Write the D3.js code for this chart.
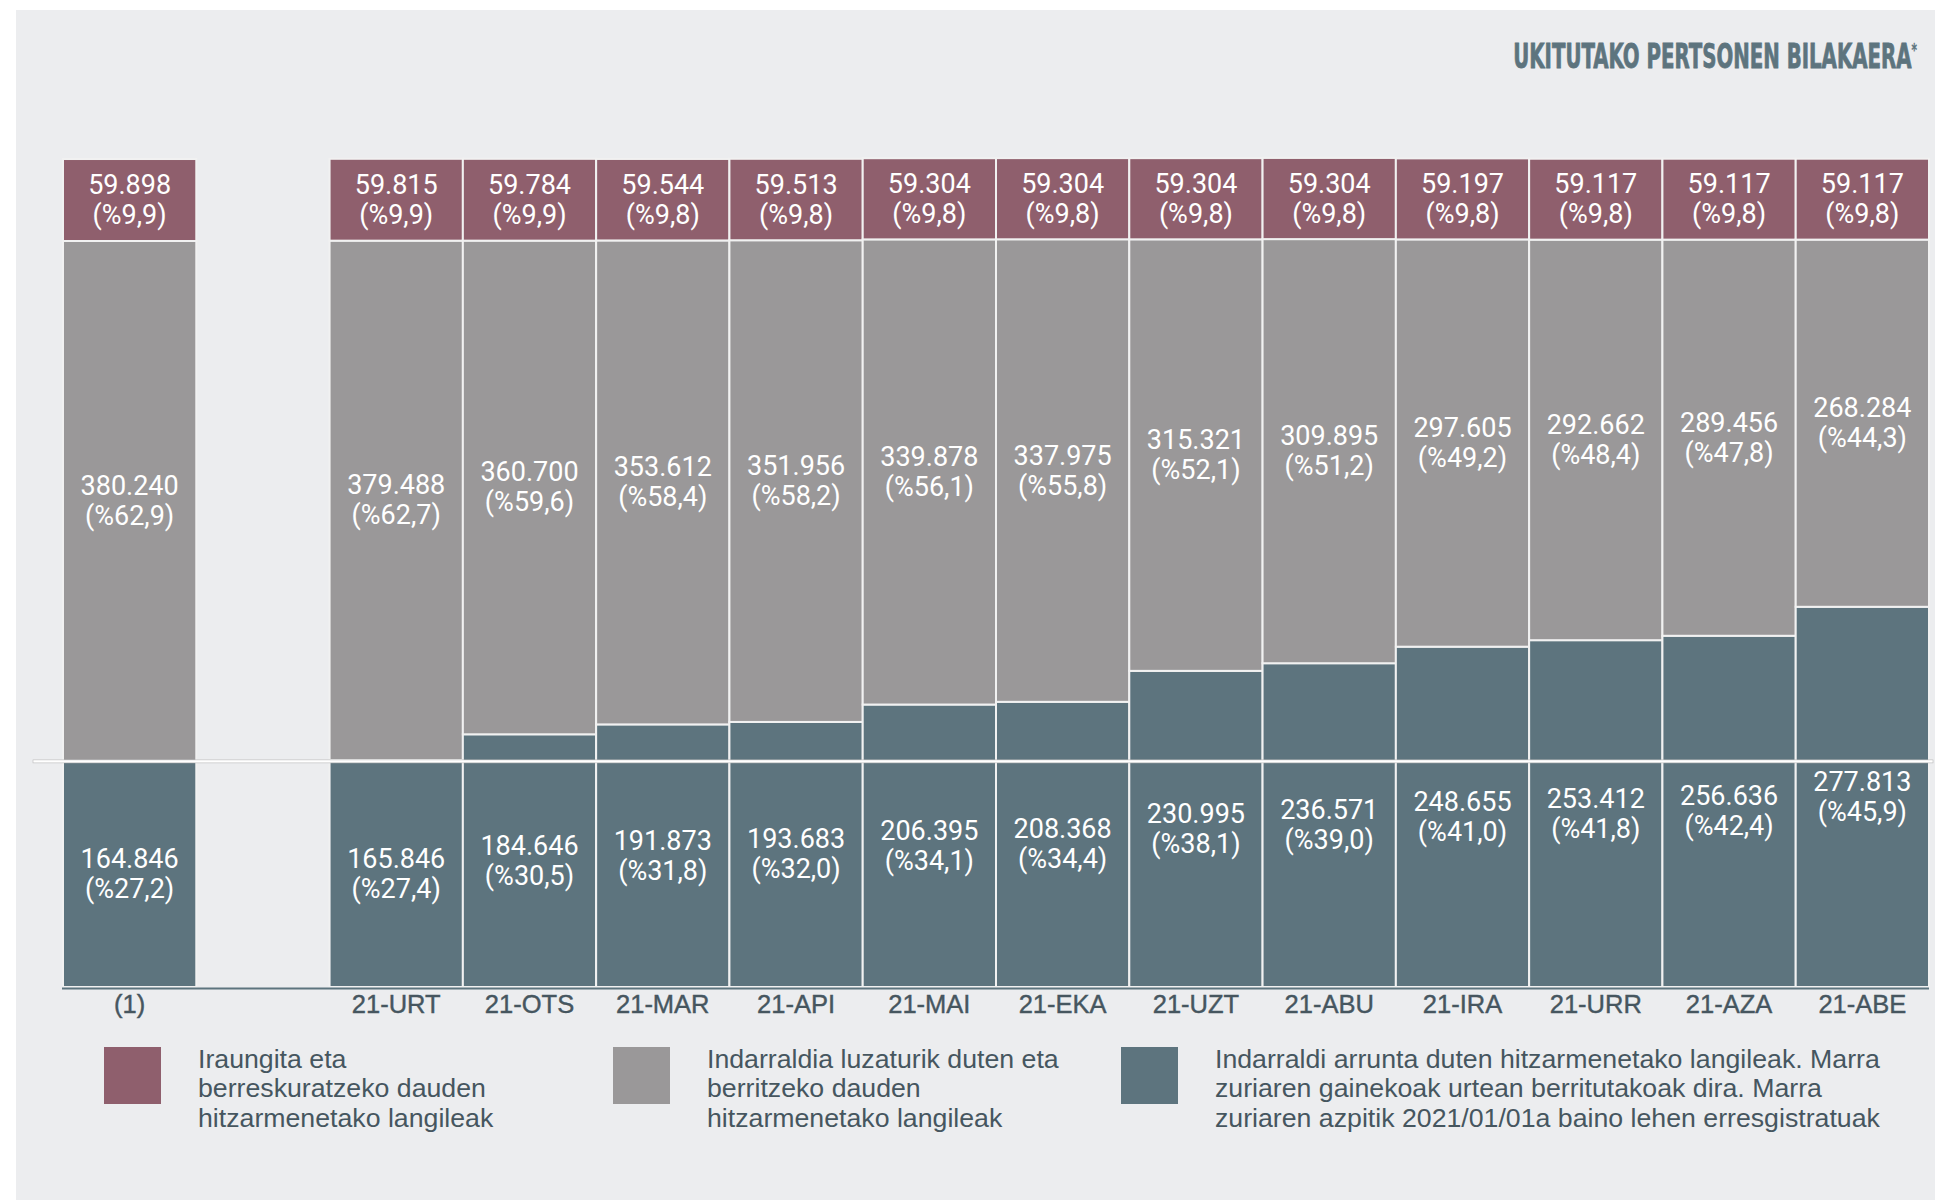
<!DOCTYPE html>
<html>
<head>
<meta charset="utf-8">
<script src="https://cdn.jsdelivr.net/npm/d3@7"></script>
<style>
  body { margin: 0; background: #ffffff; }
  svg { display: block; }
</style>
</head>
<body>
<svg id="chart"></svg>
<script>
    // data
    var categories = ["(1)", "", "21-URT", "21-OTS", "21-MAR", "21-API", "21-MAI", "21-EKA", "21-UZT", "21-ABU", "21-IRA", "21-URR", "21-AZA", "21-ABE"];
    var expired = [59898, null, 59815, 59784, 59544, 59513, 59304, 59304, 59304, 59304, 59197, 59117, 59117, 59117];
    var expiredPct = [9.9, null, 9.9, 9.9, 9.8, 9.8, 9.8, 9.8, 9.8, 9.8, 9.8, 9.8, 9.8, 9.8];
    var extended = [380240, null, 379488, 360700, 353612, 351956, 339878, 337975, 315321, 309895, 297605, 292662, 289456, 268284];
    var extendedPct = [62.9, null, 62.7, 59.6, 58.4, 58.2, 56.1, 55.8, 52.1, 51.2, 49.2, 48.4, 47.8, 44.3];
    var current = [164846, null, 165846, 184646, 191873, 193683, 206395, 208368, 230995, 236571, 248655, 253412, 256636, 277813];
    var currentPct = [27.2, null, 27.4, 30.5, 31.8, 32.0, 34.1, 34.4, 38.1, 39.0, 41.0, 41.8, 42.4, 45.9];
    var baseValue = 164846; // white line: registered before 2021/01/01
    var yMax = 605000;

    var title = "UKITUTAKO PERTSONEN BILAKAERA";
    var legendItems = [
        {color: "#8F5F6D", lines: ["Iraungita eta", "berreskuratzeko dauden", "hitzarmenetako langileak"]},
        {color: "#9A9899", lines: ["Indarraldia luzaturik duten eta", "berritzeko dauden", "hitzarmenetako langileak"]},
        {color: "#5D747E", lines: ["Indarraldi arrunta duten hitzarmenetako langileak. Marra", "zuriaren gainekoak urtean berritutakoak dira. Marra", "zuriaren azpitik 2021/01/01a baino lehen erresgistratuak"]}
    ];

    var W = 1935, H = 1203;
    var colMaroon = "#8F5F6D", colGray = "#9A9899", colTeal = "#5D747E";
    var textDark = "#46565F";
    var font = "Roboto, 'Liberation Sans', sans-serif";
    var font2 = "'Liberation Sans', Arial, sans-serif";

    var loc = d3.formatLocale({decimal: ",", thousands: ".", grouping: [3], currency: ["", ""]});
    var fmtNum = loc.format(",d");
    var fmtPct = function(p) { return "(%" + loc.format(".1f")(p) + ")"; };

    var svg = d3.select("#chart").attr("width", W).attr("height", H);

    svg.append("rect")
        .attr("x", 16).attr("y", 10)
        .attr("width", W - 16).attr("height", 1190)
        .attr("fill", "#ECEDEF");

    var xS = d3.scaleBand()
        .domain(d3.range(categories.length))
        .range([63, 1929])
        .padding(0);

    var yS = d3.scaleLinear()
        .domain([0, yMax])
        .range([987, 159]);

    var idx = d3.range(categories.length).filter(function(i) { return current[i] !== null; });

    var bars = svg.append("g").selectAll("g.bar")
        .data(idx)
        .enter().append("g").attr("class", "bar");

    var segs = function(i) {
        return [
            {v0: 0, v1: current[i], c: colTeal, n: current[i], p: currentPct[i]},
            {v0: current[i], v1: current[i] + extended[i], c: colGray, n: extended[i], p: extendedPct[i]},
            {v0: current[i] + extended[i], v1: current[i] + extended[i] + expired[i], c: colMaroon, n: expired[i], p: expiredPct[i]}
        ];
    };

    bars.selectAll("rect")
        .data(function(i) { return segs(i).map(function(s) { s.i = i; return s; }); })
        .enter().append("rect")
        .attr("x", function(d) { return xS(d.i); })
        .attr("width", xS.bandwidth())
        .attr("y", function(d) { return yS(d.v1); })
        .attr("height", function(d) { return yS(d.v0) - yS(d.v1); })
        .attr("fill", function(d) { return d.c; })
        .attr("stroke", "#F1F1F1")
        .attr("stroke-width", 2);

    // x axis line
    svg.append("line")
        .attr("x1", 62).attr("x2", 1929)
        .attr("y1", 988.5).attr("y2", 988.5)
        .attr("stroke", colTeal).attr("stroke-width", 2);

    // white line
    svg.append("rect")
        .attr("x", 33).attr("y", yS(baseValue) - 1.5)
        .attr("width", 1900).attr("height", 3)
        .attr("fill", "#ffffff")
        .attr("stroke", "#B9B9B9").attr("stroke-width", 0.6);

    // value labels
    bars.selectAll("text")
        .data(function(i) { return segs(i).map(function(s) { s.i = i; return s; }); })
        .enter().append("text")
        .attr("text-anchor", "middle")
        .attr("font-family", font)
        .attr("font-size", 27)
        .attr("fill", "#ffffff")
        .each(function(d) {
            var cx = xS(d.i) + xS.bandwidth() / 2;
            var cy = (yS(d.v0) + yS(d.v1)) / 2;
            var t = d3.select(this);
            t.append("tspan").attr("x", cx).attr("y", cy - 6).text(fmtNum(d.n));
            t.append("tspan").attr("x", cx).attr("y", cy + 24).text(fmtPct(d.p));
        });

    // category labels
    svg.append("g").selectAll("text")
        .data(categories)
        .enter().append("text")
        .attr("x", function(d, i) { return xS(i) + xS.bandwidth() / 2; })
        .attr("y", 1013)
        .attr("text-anchor", "middle")
        .attr("font-family", font2)
        .attr("font-size", 25.5)
        .attr("fill", textDark)
        .attr("stroke", textDark).attr("stroke-width", 0.4)
        .text(function(d) { return d; });

    // title, squeezed to the width seen in the picture
    var tt = svg.append("text")
        .attr("text-anchor", "end")
        .attr("font-family", "'DejaVu Sans Condensed', 'DejaVu Sans', sans-serif")
        .attr("font-weight", "bold")
        .attr("font-size", 34)
        .attr("fill", colTeal)
        .attr("stroke", colTeal).attr("stroke-width", 0.8);
    tt.append("tspan").text(title);
    tt.append("tspan").attr("font-size", 18).attr("dy", -12).attr("stroke-width", 0.3).text("*");
    var tLen = tt.node().getComputedTextLength();
    tt.attr("transform", "translate(1917,68) scale(" + (404 / tLen) + ",1)");

    // legend
    var legendX = [104, 613, 1121];
    var legendG = svg.append("g").selectAll("g")
        .data(legendItems)
        .enter().append("g")
        .attr("transform", function(d, i) { return "translate(" + legendX[i] + ",1047)"; });

    legendG.append("rect")
        .attr("width", 57).attr("height", 57)
        .attr("fill", function(d) { return d.color; });

    legendG.append("text")
        .attr("transform", "translate(94,0) scale(1.068,1)")
        .attr("font-family", font2)
        .attr("font-size", 25)
        .attr("fill", textDark)
        .selectAll("tspan")
        .data(function(d) { return d.lines; })
        .enter().append("tspan")
        .attr("x", 0)
        .attr("y", function(d, i) { return 21 + i * 29.5; })
        .text(function(d) { return d; });
</script>
</body>
</html>
